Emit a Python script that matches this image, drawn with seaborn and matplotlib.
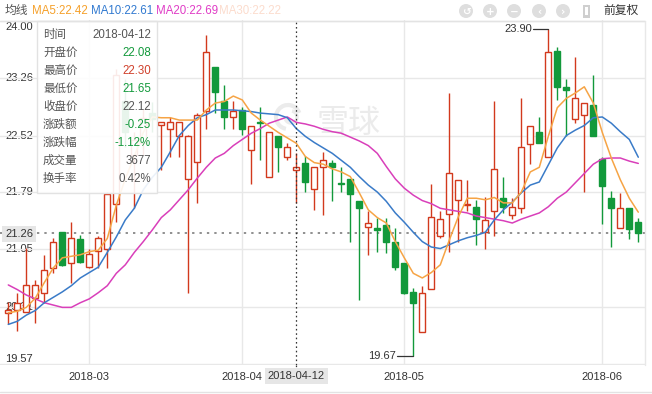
import matplotlib
matplotlib.use("Agg")
import matplotlib.pyplot as plt
import matplotlib.transforms as mtransforms
from matplotlib.patches import Rectangle, Circle, Arc
import numpy as np
import pandas as pd
import seaborn as sns

# ---------------- data ----------------
month_labels = ["2018-03", "2018-04", "2018-05", "2018-06"]
month_pos = [9, 26, 44, 66]
hover_label = "2018-04-12"
hover_pos = 32
ytick_labels = ["24.00", "23.26", "22.52", "21.79", "21.05", "20.31", "19.57"]
last_price = 21.26

opens = [20.23, 20.27, 20.24, 20.42, 20.49, 20.81, 21.27, 20.87, 21.18, 20.82,
         21.03, 21.05, 21.64, 22.96, 22.27, 22.42, 22.81, 22.65, 22.61, 22.51,
         21.96, 22.18, 22.84, 23.41, 22.96, 22.76, 22.85, 22.33, 22.70, 21.98,
         22.51, 22.24, 22.08, 22.17, 21.83, 22.12, 22.16, 21.91, 21.96, 21.68,
         21.34, 21.32, 21.37, 21.15, 20.87, 20.50, 19.98, 20.54, 21.22, 21.51,
         21.69, 21.62, 21.60, 21.27, 21.54, 21.71, 21.50, 21.58, 22.41, 22.56,
         22.24, 23.61, 23.15, 22.73, 22.79, 22.92, 22.22, 21.71, 21.33, 21.58,
         21.40]
closes = [20.27, 20.36, 20.59, 20.59, 20.78, 21.14, 20.85, 21.20, 20.89, 20.99,
          21.19, 21.76, 23.30, 22.56, 22.46, 22.75, 22.73, 22.69, 22.69, 22.69,
          22.51, 22.79, 23.60, 23.08, 22.76, 22.84, 22.60, 22.64, 22.68, 22.56,
          22.37, 22.37, 22.12, 21.92, 22.12, 22.20, 22.11, 21.89, 21.76, 21.58,
          21.39, 21.30, 21.14, 20.82, 20.49, 20.36, 20.49, 21.47, 21.44, 22.03,
          21.95, 21.63, 21.44, 21.43, 22.09, 21.60, 21.60, 22.37, 22.64, 22.43,
          23.60, 23.15, 23.11, 23.00, 22.94, 22.52, 21.87, 21.58, 21.58, 21.31,
          21.26]
highs = [20.37, 20.49, 21.07, 20.65, 20.98, 21.20, 21.27, 21.40, 21.23, 21.05,
         21.22, 21.79, 23.38, 23.25, 22.57, 22.86, 22.95, 22.70, 22.76, 22.69,
         22.53, 22.81, 23.82, 23.41, 23.17, 22.96, 22.89, 22.64, 22.89, 22.56,
         22.51, 22.43, 22.30, 22.25, 22.12, 22.31, 22.21, 22.11, 21.96, 21.68,
         21.54, 21.46, 21.46, 21.33, 20.87, 20.55, 20.57, 21.90, 21.54, 23.07,
         21.95, 21.95, 21.69, 21.72, 22.96, 21.99, 21.71, 23.00, 22.64, 22.76,
         23.90, 23.66, 23.25, 23.53, 22.94, 23.30, 22.24, 21.80, 21.78, 21.58,
         21.46]
lows = [20.08, 19.99, 20.24, 20.10, 20.36, 20.74, 20.83, 20.61, 20.87, 20.81,
        20.81, 20.81, 21.40, 22.37, 21.59, 22.27, 22.56, 22.08, 22.24, 22.24,
        20.48, 21.65, 22.61, 22.81, 22.61, 22.61, 22.53, 21.90, 22.20, 21.98,
        22.05, 22.21, 21.65, 21.79, 21.56, 21.50, 21.67, 21.79, 21.14, 20.39,
        20.98, 21.02, 21.00, 20.78, 20.47, 19.67, 19.98, 20.54, 21.20, 21.01,
        21.14, 21.54, 21.11, 21.05, 21.22, 21.52, 21.44, 21.52, 22.15, 22.43,
        22.24, 22.98, 22.51, 22.68, 21.79, 22.52, 21.38, 21.08, 21.33, 21.18,
        21.14]
ma5 = [20.23, 20.25, 20.30, 20.42, 20.62, 20.81, 20.94, 20.96, 20.98, 21.02,
       21.04, 21.19, 21.62, 21.96, 22.25, 22.56, 22.76, 22.75, 22.75, 22.72,
       22.72, 22.72, 22.85, 22.94, 22.96, 23.03, 22.98, 22.81, 22.72, 22.64,
       22.56, 22.49, 22.42, 22.25, 22.17, 22.15, 22.09, 22.05, 21.99, 21.78,
       21.56, 21.46, 21.39, 21.15, 20.94, 20.74, 20.68, 20.75, 20.85, 21.17,
       21.47, 21.71, 21.71, 21.69, 21.72, 21.65, 21.65, 21.79, 22.05, 22.11,
       22.51, 22.88, 23.00, 23.07, 23.15, 22.94, 22.56, 22.23, 21.95, 21.71,
       21.53]
ma10 = [20.08, 20.12, 20.20, 20.26, 20.36, 20.43, 20.50, 20.58, 20.68, 20.75,
        20.82, 21.01, 21.21, 21.43, 21.58, 21.82, 21.98, 22.11, 22.31, 22.52,
        22.65, 22.75, 22.79, 22.85, 22.85, 22.85, 22.84, 22.83, 22.81, 22.80,
        22.79, 22.75, 22.61, 22.51, 22.43, 22.36, 22.29, 22.20, 22.11, 21.99,
        21.88, 21.79, 21.67, 21.52, 21.40, 21.27, 21.15, 21.08, 21.06, 21.11,
        21.16, 21.20, 21.23, 21.27, 21.43, 21.56, 21.66, 21.78, 21.88, 21.92,
        22.14, 22.36, 22.52, 22.59, 22.65, 22.75, 22.76, 22.68, 22.57, 22.47,
        22.24]
ma20 = [20.59, 20.53, 20.46, 20.41, 20.36, 20.33, 20.30, 20.30, 20.36, 20.41,
        20.49, 20.58, 20.74, 20.85, 21.01, 21.15, 21.30, 21.46, 21.56, 21.69,
        21.82, 21.97, 22.11, 22.23, 22.29, 22.39, 22.47, 22.55, 22.61, 22.68,
        22.72, 22.76, 22.69, 22.67, 22.64, 22.60, 22.57, 22.55, 22.50, 22.45,
        22.39, 22.29, 22.12, 21.96, 21.84, 21.75, 21.68, 21.64, 21.58, 21.56,
        21.54, 21.52, 21.48, 21.46, 21.44, 21.42, 21.39, 21.44, 21.48, 21.52,
        21.60, 21.71, 21.79, 21.91, 22.03, 22.15, 22.22, 22.23, 22.23, 22.19,
        22.16]

legend_items = [("MA5:22.42", "#f5a02a"), ("MA10:22.61", "#3079d0"),
                ("MA20:22.69", "#e03cc6"), ("MA30:22.22", "#fcdccd")]
tip_labels = ["时间", "开盘价", "最高价", "最低价", "收盘价", "涨跌额", "涨跌幅", "成交量", "换手率"]
tip_values = ["2018-04-12", "22.08", "22.30", "21.65", "22.12", "-0.25", "-1.12%", "3677", "0.42%"]

# ---------------- style ----------------
sns.set_theme(style="white")
plt.rcParams["font.family"] = ["Liberation Sans", "Noto Sans CJK SC", "DejaVu Sans"]
plt.rcParams["axes.unicode_minus"] = False

RED = "#d2391d"
GREEN = "#12993b"
GRID = "#e8e8e8"
TXT = "#333333"
C_MA5, C_MA10, C_MA20 = "#f6a445", "#3a7bc8", "#d93fba"

W, H = 652, 394
fig = plt.figure(figsize=(W / 100, H / 100), dpi=100, facecolor="white")

def fp(x, y):
    return (x / W, 1 - y / H)

# background axes (pixel coords) for labels under the marks
bg = fig.add_axes([0, 0, 1, 1], zorder=0)
bg.set_xlim(0, W); bg.set_ylim(H, 0); bg.axis("off")

AX_TOP, AX_BOT, AX_RIGHT = 20, 365, 645
PX = 77.4
ax = fig.add_axes([0, 1 - AX_BOT / H, AX_RIGHT / W, (AX_BOT - AX_TOP) / H], zorder=1)
ax.patch.set_alpha(0)
ax.set_ylim(24.00 - (AX_BOT - 21) / PX, 24.00 + (21 - AX_TOP) / PX)
ax.set_xlim(-8.3 / 9, (AX_RIGHT - 8.3) / 9)
for s in ax.spines.values():
    s.set_visible(False)

# grid
for lab in ytick_labels:
    ax.axhline(float(lab), color=GRID, lw=1, zorder=0)
for p in month_pos:
    ax.axvline(p, color=GRID, lw=1, zorder=0)

# y tick labels (first/last clamped inside as in the original)
ylab_y = {"24.00": 27, "19.57": 359}
for lab in ytick_labels:
    v = float(lab)
    yy = ylab_y.get(lab, 21 + (24.00 - v) * PX)
    bg.text(5, yy, lab, ha="left", va="center", fontsize=8, color=TXT)

# watermark
bg.text(349, 123, "雪球", ha="center", va="center", fontsize=23, color="#ebebeb",
        family=["Noto Sans CJK SC"])
bg.add_patch(Arc((288, 117), 24, 24, theta1=100, theta2=340, color="#ebebeb", lw=3))
bg.add_patch(Arc((291, 117), 12, 12, theta1=280, theta2=160, color="#ebebeb", lw=2.5))

# last price dotted line
ax.axhline(last_price, color="#8f8f8f", lw=1.4, ls=(0, (1.2, 2.6)), zorder=2)

# candles
n = len(closes)
idx = np.arange(n)
o = np.array(opens); c = np.array(closes); h = np.array(highs); l = np.array(lows)
up = c >= o
for i in range(n):
    ax.vlines(i, l[i], h[i], color=RED if up[i] else GREEN, lw=1.0, zorder=3)
bottoms = np.minimum(o, c)
heights = np.maximum(np.abs(c - o), 0.02)
ax.bar(idx[up], heights[up], bottom=bottoms[up], width=0.64, facecolor="white",
       edgecolor=RED, linewidth=1.0, zorder=4)
ax.bar(idx[~up], heights[~up], bottom=bottoms[~up], width=0.64, facecolor=GREEN,
       edgecolor=GREEN, linewidth=1.0, zorder=4)

# moving averages
df = pd.DataFrame({"idx": idx, "MA5": ma5, "MA10": ma10, "MA20": ma20})
sns.lineplot(data=df, x="idx", y="MA20", ax=ax, color=C_MA20, lw=1.1, zorder=5)
sns.lineplot(data=df, x="idx", y="MA10", ax=ax, color=C_MA10, lw=1.1, zorder=5)
sns.lineplot(data=df, x="idx", y="MA5", ax=ax, color=C_MA5, lw=1.1, zorder=5)
ax.set_xlabel(""); ax.set_ylabel("")
ax.set_xticks([]); ax.set_yticks([])
ax.set_xlim(-8.3 / 9, (AX_RIGHT - 8.3) / 9)
ax.set_ylim(24.00 - (AX_BOT - 21) / PX, 24.00 + (21 - AX_TOP) / PX)

# max / min annotations
imax = int(np.argmax(h)); imin = int(np.argmin(l))
ax.plot([imax - 1.7, imax], [h[imax], h[imax]], color="#333", lw=0.9, zorder=6)
ax.text(imax - 1.8, h[imax], f"{h[imax]:.2f}", ha="right", va="center", fontsize=8, color=TXT, zorder=6)
ax.plot([imin - 1.8, imin], [l[imin], l[imin]], color="#333", lw=0.9, zorder=6)
ax.text(imin - 1.9, l[imin], f"{l[imin]:.2f}", ha="right", va="center", fontsize=8, color=TXT, zorder=6)

# crosshair
ax.axvline(hover_pos, color="#333", lw=0.9, ls=(0, (1.3, 2.2)), zorder=6)

# ---------------- overlay (pixel coords) ----------------
ov = fig.add_axes([0, 0, 1, 1], zorder=3)
ov.set_xlim(0, W); ov.set_ylim(H, 0); ov.axis("off"); ov.patch.set_alpha(0)

ov.plot([0, AX_RIGHT], [20.5, 20.5], color="#e3e3e3", lw=1)
ov.plot([AX_RIGHT, AX_RIGHT], [20.5, AX_BOT], color="#e8e8e8", lw=1)
ov.plot([0, W], [392, 392], color="#e3e3e3", lw=1)
ov.plot([hover_pos * 9 + 8.3] * 2, [AX_BOT, 368], color="#333", lw=0.9, ls=(0, (1.3, 2.2)))

# x labels
trans_x = mtransforms.blended_transform_factory(ax.transData, fig.transFigure)
for p, lab in zip(month_pos, month_labels):
    ax.text(p, fp(0, 377)[1], lab, transform=trans_x, ha="center", va="center",
            fontsize=8, color=TXT, clip_on=False)
ax.text(hover_pos, fp(0, 376)[1], hover_label, transform=trans_x, ha="center", va="center",
        fontsize=8, color=TXT, clip_on=False, zorder=7,
        bbox=dict(boxstyle="square,pad=0.25", fc="#e6e6e6", ec="none"))

# current price label
ov.text(5, 234, f"{last_price:.2f}", ha="left", va="center", fontsize=8, color=TXT,
        bbox=dict(boxstyle="square,pad=0.25", fc="#e6e6e6", ec="none"))

# legend line
ov.text(5, 11, "均线", ha="left", va="center", fontsize=8.5, color="#555")
lx = [32, 91, 156, 219]
for (txt, col), x in zip(legend_items, lx):
    ov.text(x, 11, txt, ha="left", va="center", fontsize=8.3, color=col)

# top-right buttons
for x, g in zip([466, 490, 514, 539, 563], ["↺", "+", "−", "‹", "›"]):
    ov.add_patch(Circle((x, 11), 7, color="#dedede", lw=0))
    ov.text(x, 11.5, g, ha="center", va="center", fontsize=7.5, color="white",
            family=["DejaVu Sans"], weight="bold")
ov.add_patch(Rectangle((583, 4.5), 7, 13, fc="#cfcfcf", ec="none"))
ov.add_patch(Rectangle((585, 7), 3, 8, fc="white", ec="none"))
ov.text(603, 11, "前复权", ha="left", va="center", fontsize=8.5, color=TXT)

# tooltip
ov.add_patch(Rectangle((37, 21), 120, 172, fc="white", alpha=0.9, ec="none"))
ov.add_patch(Rectangle((37, 21), 120, 172, fc="none", ec="#e2e2e2", lw=1))
val_colors = ["#555", GREEN, "#d0402b", GREEN, "#555", GREEN, GREEN, "#555", "#555"]
for k, (lab, val, vc) in enumerate(zip(tip_labels, tip_values, val_colors)):
    yy = 35 + 18.0 * k
    ov.text(43, yy, lab, ha="left", va="center", fontsize=8.3, color="#555")
    ov.text(151, yy, val, ha="right", va="center", fontsize=8.3, color=vc)

fig.savefig("out.png", dpi=100, facecolor="white")
